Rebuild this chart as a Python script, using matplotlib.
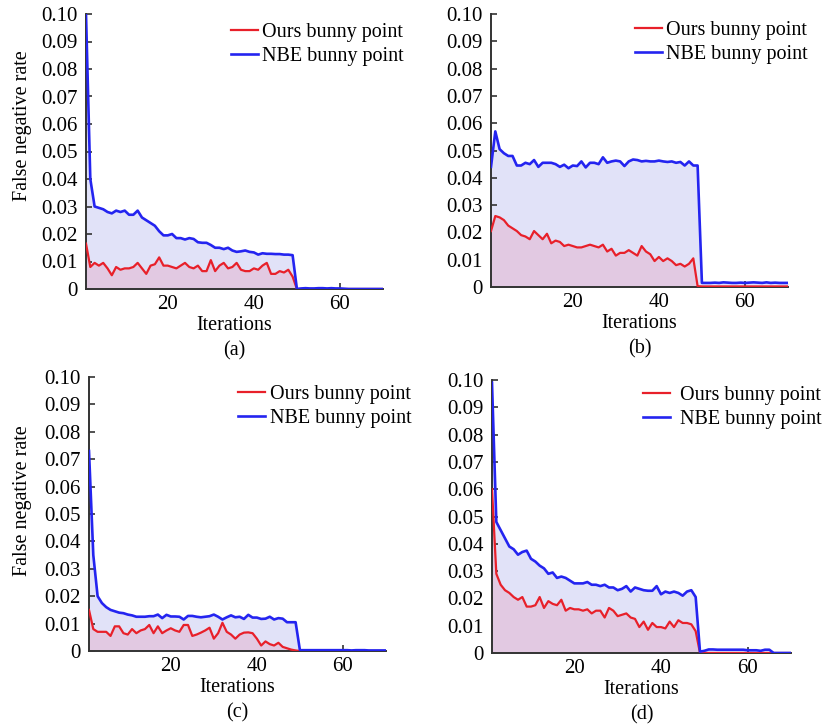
import numpy as np
import matplotlib
matplotlib.use("Agg")
import matplotlib.pyplot as plt
from matplotlib.ticker import FixedLocator, FuncFormatter

plt.rcParams['font.family'] = ['Liberation Serif', 'DejaVu Serif']

iterations = list(range(1, 71))

a_nbe = [0.100, 0.040, 0.030, 0.0295, 0.029, 0.028, 0.0275, 0.0285, 0.028, 0.0285,
         0.027, 0.027, 0.0285, 0.026, 0.025, 0.024, 0.023, 0.021, 0.0195, 0.0195,
         0.020, 0.0185, 0.0185, 0.018, 0.0185, 0.0182, 0.017, 0.0168, 0.0168, 0.016,
         0.015, 0.015, 0.0145, 0.015, 0.014, 0.0135, 0.0137, 0.014, 0.0135, 0.0133,
         0.0125, 0.013, 0.0128, 0.0128, 0.0127, 0.0127, 0.0125, 0.0125, 0.0123, 0.0,
         0.0002, 0.0003, 0.0002, 0.0002, 0.0003, 0.0003, 0.0002, 0.0003, 0.0002, 0.0002,
         0.0001, 0.0, 0.0, 0.0, 0.0, 0.0, 0.0, 0.0, 0.0, 0.0]
a_ours = [0.0165, 0.008, 0.0095, 0.0085, 0.0095, 0.0075, 0.005, 0.008, 0.007, 0.0075,
          0.0075, 0.008, 0.0095, 0.0075, 0.0055, 0.0085, 0.009, 0.0115, 0.0085, 0.0085,
          0.008, 0.0075, 0.0085, 0.0095, 0.008, 0.0075, 0.0085, 0.0065, 0.0065, 0.0105,
          0.0065, 0.0085, 0.0095, 0.0075, 0.008, 0.0095, 0.007, 0.0065, 0.0065, 0.0075,
          0.007, 0.0085, 0.0095, 0.0055, 0.0055, 0.0065, 0.006, 0.007, 0.0045, 0.0,
          0.0, 0.0, 0.0, 0.0, 0.0, 0.0, 0.0, 0.0, 0.0, 0.0,
          0.0, 0.0, 0.0, 0.0, 0.0, 0.0, 0.0, 0.0, 0.0, 0.0]

b_nbe = [0.044, 0.057, 0.0505, 0.049, 0.048, 0.048, 0.0445, 0.0445, 0.0455, 0.045,
         0.0465, 0.044, 0.0455, 0.0455, 0.0455, 0.045, 0.044, 0.0448, 0.0435, 0.0445,
         0.0443, 0.046, 0.0438, 0.0455, 0.0455, 0.045, 0.0475, 0.0455, 0.046, 0.0463,
         0.046, 0.0443, 0.046, 0.0467, 0.0465, 0.046, 0.0462, 0.046, 0.046, 0.0463,
         0.046, 0.0458, 0.046, 0.0455, 0.0458, 0.0445, 0.046, 0.0445, 0.0445, 0.0015,
         0.0015, 0.0015, 0.0016, 0.0015, 0.0017, 0.0016, 0.0015, 0.0015, 0.0016, 0.0015,
         0.0016, 0.0017, 0.0016, 0.0015, 0.0017, 0.0015, 0.0016, 0.0015, 0.0015, 0.0015]
b_ours = [0.0205, 0.026, 0.0255, 0.0245, 0.0225, 0.0215, 0.0205, 0.019, 0.0185, 0.0175,
          0.0205, 0.019, 0.0175, 0.0195, 0.016, 0.017, 0.0165, 0.015, 0.0155, 0.015,
          0.0145, 0.0145, 0.015, 0.0155, 0.015, 0.0145, 0.0155, 0.013, 0.014, 0.0115,
          0.0125, 0.0125, 0.0135, 0.0125, 0.0115, 0.015, 0.013, 0.012, 0.0095, 0.011,
          0.0095, 0.0105, 0.0095, 0.008, 0.0085, 0.0075, 0.0085, 0.0105, 0.0003, 0.0002,
          0.0002, 0.0002, 0.0002, 0.0002, 0.0002, 0.0002, 0.0002, 0.0002, 0.0002, 0.0002,
          0.0002, 0.0002, 0.0002, 0.0002, 0.0002, 0.0002, 0.0002, 0.0002, 0.0002, 0.0002]

c_nbe = [0.073, 0.035, 0.020, 0.0175, 0.016, 0.015, 0.0145, 0.014, 0.0138, 0.0133,
         0.013, 0.0125, 0.0125, 0.0125, 0.0127, 0.0127, 0.0133, 0.012, 0.0132, 0.0126,
         0.0126, 0.0125, 0.0115, 0.0128, 0.0128, 0.0125, 0.0123, 0.0125, 0.0127, 0.0133,
         0.0125, 0.0115, 0.0123, 0.013, 0.0123, 0.0125, 0.0117, 0.0132, 0.0122, 0.0122,
         0.0117, 0.0118, 0.0125, 0.0115, 0.012, 0.0118, 0.0105, 0.0105, 0.0105, 0.0003,
         0.0003, 0.0003, 0.0003, 0.0003, 0.0003, 0.0003, 0.0003, 0.0003, 0.0003, 0.0003,
         0.0003, 0.0002, 0.0003, 0.0003, 0.0003, 0.0002, 0.0002, 0.0002, 0.0002, 0.0002]
c_ours = [0.015, 0.008, 0.007, 0.007, 0.007, 0.0055, 0.009, 0.009, 0.0065, 0.006,
          0.008, 0.0065, 0.0075, 0.008, 0.0095, 0.0065, 0.009, 0.0065, 0.0075, 0.0083,
          0.0075, 0.007, 0.0095, 0.0095, 0.0055, 0.006, 0.0067, 0.0075, 0.0085, 0.0045,
          0.0065, 0.0103, 0.007, 0.006, 0.0045, 0.006, 0.0067, 0.0068, 0.0065, 0.0045,
          0.002, 0.0035, 0.0025, 0.002, 0.003, 0.0015, 0.001, 0.0005, 0.0002, 0.0,
          0.0, 0.0, 0.0, 0.0, 0.0, 0.0, 0.0, 0.0, 0.0, 0.0,
          0.0, 0.0, 0.0, 0.0, 0.0, 0.0, 0.0, 0.0, 0.0, 0.0]

d_nbe = [0.099, 0.048, 0.045, 0.042, 0.039, 0.038, 0.036, 0.037, 0.0375, 0.0345,
         0.0335, 0.032, 0.031, 0.029, 0.0295, 0.0275, 0.028, 0.0275, 0.0265, 0.0255,
         0.0255, 0.0255, 0.026, 0.025, 0.025, 0.0245, 0.025, 0.024, 0.024, 0.023,
         0.0235, 0.0245, 0.0225, 0.024, 0.0235, 0.023, 0.0228, 0.0228, 0.0245, 0.0215,
         0.0225, 0.022, 0.0225, 0.022, 0.021, 0.0225, 0.023, 0.0205, 0.0005, 0.0008,
         0.0013, 0.0013, 0.0012, 0.0012, 0.0012, 0.0012, 0.0012, 0.0012, 0.0012, 0.001,
         0.001, 0.001, 0.0008, 0.0012, 0.0012, 0.0, 0.0, 0.0, 0.0, 0.0]
d_ours = [0.060, 0.029, 0.025, 0.023, 0.022, 0.0205, 0.0195, 0.0205, 0.017, 0.017,
          0.0175, 0.0205, 0.0165, 0.019, 0.018, 0.0175, 0.0195, 0.0155, 0.0165, 0.016,
          0.016, 0.0155, 0.016, 0.0145, 0.0155, 0.0155, 0.013, 0.0165, 0.0155, 0.0135,
          0.014, 0.0145, 0.013, 0.0125, 0.0095, 0.0115, 0.0085, 0.011, 0.0095, 0.0095,
          0.009, 0.0115, 0.0095, 0.012, 0.011, 0.011, 0.0105, 0.008, 0.0, 0.0,
          0.0, 0.0, 0.0, 0.0, 0.0, 0.0, 0.0, 0.0, 0.0, 0.0,
          0.0, 0.0, 0.0, 0.0, 0.0, 0.0, 0.0, 0.0, 0.0, 0.0]

panel_labels = ["(a)", "(b)", "(c)", "(d)"]
series_labels = ["Ours bunny point", "NBE bunny point"]
y_ticks = [0.0, 0.01, 0.02, 0.03, 0.04, 0.05, 0.06, 0.07, 0.08, 0.09, 0.10]
x_ticks = [20, 40, 60]

W, H = 823, 726
fig = plt.figure(figsize=(W / 100, H / 100), dpi=100)

RED = '#e8202a'
BLUE = '#2424f0'
RED_FILL = '#e2c9e2'
BLUE_FILL = '#e1e2f8'

TICK_FS = 15
LABEL_FS = 14.5
YLABEL_FS = 14.5
LEG_FS = 14.5

# (left, top, right, bottom) in pixels
boxes = [(86, 14, 383, 289), (491, 14, 788, 287), (89, 377, 386, 651), (492, 380, 791, 653)]
legend_pos = [(231, 23), (635, 21), (238, 385), (643, 386)]
legend_pad = [0.2, 0.2, 0.25, 0.5]
ylabel_center = [126, 501]
data = [(a_ours, a_nbe), (b_ours, b_nbe), (c_ours, c_nbe), (d_ours, d_nbe)]

for i, ((l, t, r, b), (ours, nbe)) in enumerate(zip(boxes, data)):
    ax = fig.add_axes([l / W, 1 - b / H, (r - l) / W, (b - t) / H])
    ax.fill_between(iterations, 0, nbe, color=BLUE_FILL, lw=0, zorder=1)
    ax.fill_between(iterations, 0, ours, color=RED_FILL, lw=0, zorder=2)
    ax.plot(iterations, ours, color=RED, lw=1.6, zorder=3, label=series_labels[0])
    ax.plot(iterations, nbe, color=BLUE, lw=1.9, zorder=4, label=series_labels[1])
    ax.set_xlim(1, 70)
    ax.set_ylim(0, 0.10)
    ax.yaxis.set_major_locator(FixedLocator(y_ticks))
    ax.yaxis.set_major_formatter(FuncFormatter(lambda v, p: '0' if abs(v) < 1e-9 else f'{v:.2f}'))
    ax.xaxis.set_major_locator(FixedLocator(x_ticks))
    for s in ['top', 'right']:
        ax.spines[s].set_visible(False)
    for s in ['left', 'bottom']:
        ax.spines[s].set_color('#333333')
        ax.spines[s].set_linewidth(1.4)
    ax.tick_params(direction='in', length=4, width=1.2, color='#333333', labelsize=TICK_FS, pad=6)
    ax.tick_params(axis='x', pad=4)
    ax.set_xlabel('Iterations', fontsize=LABEL_FS, labelpad=2)
    if i % 2 == 0:
        ax.set_ylabel('False negative rate', fontsize=YLABEL_FS)
        yc = ylabel_center[i // 2]
        ax.yaxis.set_label_coords((23 - l) / (r - l), (b - yc) / (b - t))
        ax.yaxis.label.set_va('center')
    handles, labels = ax.get_legend_handles_labels()
    lx, ly = legend_pos[i]
    ax.legend(handles, labels, loc='upper left', bbox_to_anchor=(lx / W, 1 - ly / H),
              bbox_transform=fig.transFigure, frameon=False, fontsize=LEG_FS,
              handlelength=1.35, handletextpad=legend_pad[i], borderpad=0, borderaxespad=0,
              labelspacing=0.25)
    cx = (l + r) / 2
    fig.text(cx / W, 1 - (b + 62) / H, panel_labels[i], ha='center', va='center', fontsize=LABEL_FS)

fig.savefig('out.png', dpi=100)
